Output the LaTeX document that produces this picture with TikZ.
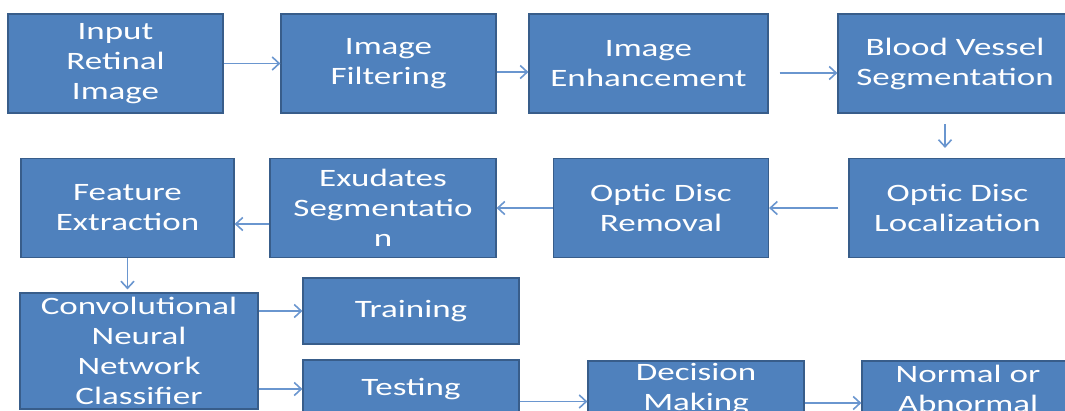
\documentclass[tikz,border=0pt]{standalone}
\usepackage{fontspec}
\setmainfont{Carlito}[FakeStretch=1.4]
\usetikzlibrary{arrows.meta,positioning}
\definecolor{boxblue}{HTML}{4F81BD}
\definecolor{boxedge}{HTML}{385D8A}
\definecolor{arrblue}{HTML}{6A96CF}

\begin{document}
\begin{tikzpicture}[x=1pt,y=-1pt,
  box/.style={draw=boxedge,line width=1.2pt,fill=boxblue,text=white,align=center,
    inner sep=0pt,minimum height=99pt,font=\fontsize{25}{30}\selectfont},
  arr/.style={draw=arrblue,line width=1.6pt,-{Straight Barb[length=7pt,width=13pt]}}]
\useasboundingbox (0,0) rectangle (1065,410);
\clip (0,0) rectangle (1065,410);
% first row
\node[box,minimum width=215pt] (input)   at (115.5,63.5) {Input\\Retinal\\Image};
\node[box,minimum width=215pt] (filter)  at (388.5,63.5) {Image\\Filtering};
\node[box,minimum width=239pt] (enhance) at (648.5,63.5) {Image\\Enhancement};
\node[box,minimum width=234pt] (vessel)  at (955,63.5)   {Blood Vessel\\Segmentation};
% second row
\node[box,minimum width=213pt] (feature)  at (127.5,208) {Feature\\Extraction};
\node[box,minimum width=226pt] (exudates) at (383,208)   {Exudates\\Segmentatio\\n};
\node[box,minimum width=215pt] (removal)  at (661,208)   {Optic Disc\\Removal};
\node[box,minimum width=217pt] (local)    at (957.5,208) {Optic Disc\\Localization};
% third row
\node[box,minimum width=238pt,minimum height=116pt] (cnn) at (139,351) {Convolutional\\Neural\\Network\\Classifier};
\node[box,minimum width=216pt,minimum height=66pt] (training) at (411,311) {Training};
\node[box,minimum width=216pt,minimum height=58pt] (testing)  at (411,389) {Testing};
\node[box,minimum width=216pt,minimum height=56pt] (decision) at (696,389) {Decision\\Making};
\node[box,minimum width=212pt,minimum height=56pt] (normal)   at (968,389) {Normal or\\Abnormal};
\coordinate (vdown) at (945,124);

\draw[arr] (input) -- (filter);
\draw[arr] ([yshift=-8.5pt]filter.east) -- ([yshift=-8.5pt]enhance.west);
\draw[arr,shorten <=11pt] ([yshift=-9.5pt]enhance.east) -- ([yshift=-9.5pt]vessel.west);
\draw[arr,shorten >=10pt] (vdown) -- (vdown |- local.north);
\draw[arr,shorten <=10pt] (local.west) -- (removal.east);
\draw[arr] (removal.west) -- (exudates.east);
\draw[arr] ([yshift=-16pt]exudates.west) -- ([yshift=-16pt]feature.east);
\draw[arr,shorten >=3pt] (feature.south) -- (feature.south |- cnn.north);
\draw[arr] (cnn.east |- training.west) -- (training.west);
\draw[arr] (cnn.east |- testing.west) -- (testing.west);
\draw[arr] ([yshift=-12.5pt]testing.east) -- ([yshift=-12.5pt]decision.west);
\draw[arr] ([yshift=-14pt]decision.east) -- ([yshift=-14pt]normal.west);
\end{tikzpicture}
\end{document}
